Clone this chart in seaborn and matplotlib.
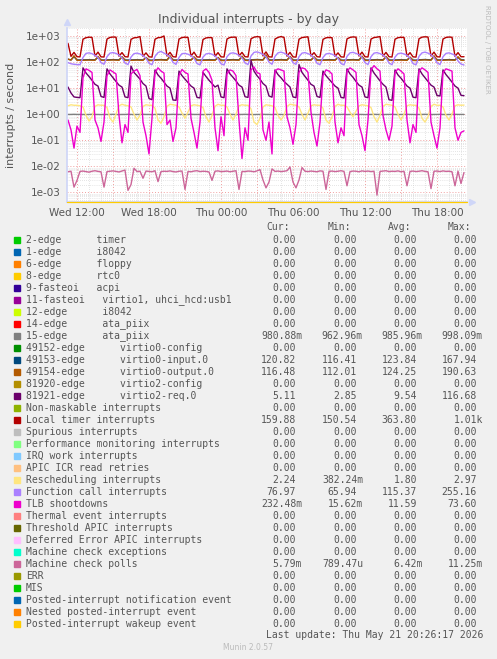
import pandas as pd
import seaborn as sns
import matplotlib.pyplot as plt
import matplotlib.dates as mdates
from matplotlib.patches import Rectangle
from matplotlib.ticker import LogLocator, FuncFormatter, NullFormatter

# ---- data, one point per 15 minutes (Wed 11:15 .. Thu 20:15)
ata_piix = [0.98, 0.98, 0.99, 0.98, 0.98,
            0.98, 0.97, 0.98, 0.99, 0.98, 0.98, 0.97, 0.98,
            0.98, 0.98, 0.99, 0.98, 0.97, 0.98, 0.98, 0.99,
            0.98, 0.97, 0.98, 0.98, 0.99, 0.98, 0.98, 0.97,
            0.98, 0.99, 0.98, 0.98, 0.97, 0.98, 0.99, 0.98,
            0.98, 0.98, 0.97, 0.98, 0.99, 0.98, 0.98, 0.98,
            0.97, 0.98, 0.98, 0.99, 0.98, 0.97, 0.98, 0.98,
            0.98, 0.99, 0.98, 0.97, 0.98, 0.98, 0.99, 0.98,
            0.98, 0.97, 0.98, 0.98, 0.99, 0.98, 0.98, 0.97,
            0.99, 0.98, 0.98, 0.97, 0.98, 0.99, 0.98, 0.98,
            0.98, 0.97, 0.98, 0.99, 0.98, 0.98, 0.97, 0.98,
            0.98, 0.98, 0.99, 0.98, 0.97, 0.98, 0.98, 0.99,
            0.97, 0.98, 0.98, 0.99, 0.98, 0.98, 0.97, 0.98,
            0.98, 0.99, 0.98, 0.98, 0.97, 0.98, 0.98, 0.99,
            0.98, 0.97, 0.98, 0.98, 0.99, 0.98, 0.98, 0.97,
            0.98, 0.98, 0.99, 0.98, 0.97, 0.98, 0.98, 0.99,
            0.98, 0.97, 0.98, 0.98, 0.99, 0.98, 0.98, 0.981]

virtio0_input = [128, 121, 160, 120, 120,
                 121, 122, 123, 122, 121, 150, 120, 119,
                 121, 122, 124, 122, 121, 155, 120, 119,
                 120, 121, 123, 121, 120, 148, 119, 118,
                 122, 123, 124, 123, 121, 158, 120, 119,
                 121, 122, 123, 122, 121, 150, 120, 119,
                 120, 121, 122, 121, 120, 145, 119, 118,
                 121, 122, 124, 122, 121, 160, 120, 119,
                 122, 123, 125, 123, 122, 168, 121, 120,
                 121, 122, 124, 122, 121, 155, 120, 119,
                 121, 123, 124, 122, 121, 152, 120, 119,
                 120, 121, 123, 121, 120, 148, 119, 118,
                 122, 123, 124, 122, 121, 158, 120, 119,
                 121, 122, 124, 122, 121, 155, 120, 119,
                 120, 121, 123, 121, 120, 150, 119, 118,
                 122, 123, 125, 123, 121, 160, 121, 120,
                 121, 122, 124, 122, 121, 150, 121, 120.8]

virtio0_output = [130, 118, 175, 117, 116,
                  117, 118, 119, 118, 117, 165, 117, 116,
                  117, 118, 120, 118, 117, 160, 116, 115,
                  116, 117, 119, 117, 116, 150, 115, 114,
                  118, 119, 121, 119, 117, 175, 117, 116,
                  117, 118, 119, 118, 117, 160, 116, 115,
                  116, 117, 118, 117, 116, 150, 115, 114,
                  117, 118, 120, 118, 117, 170, 116, 115,
                  118, 119, 121, 119, 118, 190, 117, 116,
                  117, 118, 120, 118, 117, 165, 116, 115,
                  117, 119, 120, 118, 117, 160, 116, 115,
                  116, 117, 119, 117, 116, 150, 115, 114,
                  118, 119, 120, 118, 117, 170, 116, 115,
                  117, 118, 120, 118, 117, 165, 116, 115,
                  116, 117, 119, 117, 116, 155, 115, 114,
                  118, 119, 121, 119, 117, 175, 117, 116,
                  117, 118, 120, 118, 117, 160, 117, 116.5]

virtio2_req = [11, 6.5, 4.6, 4.4, 4.3,
               60, 38, 28, 20, 14, 12, 4.8, 4.4,
               55, 35, 25, 18, 13, 11, 4.6, 4.3,
               70, 40, 30, 22, 15, 12, 4.0, 3.6,
               50, 32, 24, 17, 12, 10, 3.5, 3.4,
               45, 30, 22, 16, 12, 10, 4.4, 4.2,
               40, 28, 20, 15, 11, 13, 4.6, 4.3,
               55, 35, 26, 19, 13, 11, 4.7, 4.4,
               115, 45, 30, 22, 15, 12, 5.0, 4.5,
               50, 33, 25, 18, 14, 11, 4.6, 4.3,
               80, 40, 28, 20, 14, 12, 4.8, 4.4,
               45, 30, 22, 16, 12, 10, 4.4, 4.2,
               55, 35, 26, 18, 13, 11, 4.6, 4.3,
               60, 38, 27, 19, 14, 11, 3.6, 3.4,
               50, 32, 24, 17, 12, 10, 4.5, 4.3,
               55, 35, 25, 18, 13, 11, 5.2, 5.0,
               50, 33, 24, 17, 12, 10, 5.3, 5.11]

local_timer = [520, 165, 235, 160, 158,
               750, 860, 900, 880, 170, 240, 158, 156,
               760, 880, 910, 900, 168, 230, 160, 157,
               740, 850, 870, 950, 165, 225, 158, 155,
               750, 860, 880, 1000, 170, 235, 160, 156,
               760, 870, 900, 880, 168, 240, 157, 155,
               730, 840, 870, 860, 165, 230, 158, 156,
               760, 880, 900, 900, 170, 235, 160, 157,
               780, 900, 940, 920, 172, 245, 158, 156,
               760, 880, 950, 880, 168, 235, 157, 155,
               750, 870, 900, 930, 170, 230, 160, 156,
               740, 850, 880, 860, 165, 225, 158, 155,
               770, 880, 920, 900, 170, 240, 159, 157,
               760, 870, 900, 950, 168, 235, 160, 156,
               750, 860, 890, 880, 166, 230, 158, 155,
               780, 900, 930, 910, 170, 240, 159, 157,
               760, 880, 910, 890, 165, 230, 160, 159.9]

rescheduling = [2.1, 2.3, 2.2, 2.2, 2.1,
                1.9, 0.9, 0.55, 0.8, 2.0, 2.3, 2.2, 2.2,
                1.8, 0.7, 0.5, 1.0, 2.1, 2.4, 2.2, 2.1,
                1.9, 1.0, 0.6, 0.9, 2.0, 2.3, 2.2, 2.2,
                1.7, 0.6, 0.45, 0.8, 2.0, 2.4, 2.3, 2.2,
                1.9, 1.1, 0.7, 1.2, 2.1, 2.3, 2.2, 2.1,
                1.8, 0.8, 0.5, 0.9, 2.0, 2.4, 2.2, 2.2,
                1.9, 1.0, 0.6, 1.0, 2.1, 2.3, 2.2, 2.2,
                1.6, 0.5, 0.4, 0.7, 1.9, 2.3, 2.2, 2.1,
                1.8, 0.9, 0.6, 0.9, 2.0, 2.4, 2.3, 2.2,
                1.9, 1.0, 0.6, 1.1, 2.1, 2.3, 2.2, 2.2,
                1.7, 0.6, 0.45, 0.8, 2.0, 2.4, 2.2, 2.2,
                1.9, 1.2, 0.8, 1.3, 2.1, 2.3, 2.2, 2.1,
                1.8, 0.8, 0.5, 0.9, 2.0, 2.4, 2.3, 2.2,
                1.9, 1.0, 0.6, 1.0, 2.1, 2.3, 2.2, 2.2,
                1.7, 0.7, 0.5, 0.8, 2.0, 2.4, 2.2, 2.2,
                1.9, 0.9, 0.6, 1.0, 2.1, 2.3, 2.2, 2.24]

function_call = [95, 86, 82, 80, 79,
                 150, 215, 225, 210, 180, 150, 95, 82,
                 160, 220, 230, 215, 185, 145, 92, 80,
                 155, 210, 220, 205, 175, 140, 90, 79,
                 165, 230, 255, 220, 190, 155, 98, 81,
                 150, 210, 215, 200, 175, 140, 88, 78,
                 155, 205, 215, 200, 170, 135, 86, 77,
                 160, 215, 225, 210, 180, 145, 93, 80,
                 170, 235, 245, 225, 195, 160, 100, 82,
                 165, 225, 240, 220, 190, 150, 95, 81,
                 160, 220, 230, 210, 185, 145, 90, 79,
                 150, 205, 215, 200, 175, 140, 88, 78,
                 165, 225, 235, 215, 190, 150, 95, 80,
                 160, 220, 230, 210, 185, 145, 92, 79,
                 155, 210, 220, 205, 180, 140, 88, 78,
                 165, 225, 240, 220, 190, 150, 94, 80,
                 160, 215, 225, 205, 180, 110, 84, 77]

tlb_shootdowns = [0.6, 0.25, 0.05, 0.35, 0.2,
                  25, 55, 48, 40, 0.6, 0.3, 0.09, 0.5,
                  30, 50, 42, 35, 0.9, 0.08, 0.4, 0.2,
                  35, 45, 52, 30, 0.5, 0.15, 0.03, 0.7,
                  40, 60, 45, 38, 0.4, 0.6, 0.09, 0.3,
                  30, 52, 40, 35, 0.7, 0.2, 0.05, 0.5,
                  45, 55, 40, 20, 0.3, 0.04, 0.8, 0.15,
                  35, 50, 45, 30, 0.6, 0.02, 0.3, 0.1,
                  50, 65, 40, 35, 0.25, 0.1, 0.5, 0.03,
                  45, 55, 50, 45, 0.8, 0.3, 0.07, 0.4,
                  40, 60, 55, 40, 1.2, 0.2, 0.06, 0.5,
                  30, 50, 45, 35, 0.5, 0.08, 0.3, 0.15,
                  45, 60, 50, 40, 0.4, 0.15, 0.04, 0.6,
                  50, 73, 55, 45, 0.9, 0.25, 0.1, 0.35,
                  40, 55, 45, 35, 0.6, 0.08, 0.4, 0.2,
                  45, 60, 50, 40, 0.5, 0.15, 0.05, 0.3,
                  40, 55, 50, 45, 0.3, 0.1, 0.2, 0.23]

# machine check polls, in milli-interrupts per second
mc_polls_milli = [6.2, 6.5, 1.6, 2.9, 6.4,
                  6.6, 6.3, 6.0, 6.5, 6.8, 6.4, 6.2, 1.6,
                  6.3, 6.5, 6.7, 6.4, 6.1, 6.6, 7.2, 1.2,
                  2.0, 8.5, 6.3, 6.5, 3.5, 6.6, 6.4, 6.2,
                  6.8, 2.6, 6.3, 6.5, 6.4, 6.7, 6.3, 6.1,
                  6.5, 6.6, 1.3, 6.4, 6.2, 6.6, 6.8, 6.3,
                  6.5, 6.4, 6.1, 2.9, 6.5, 6.7, 6.3, 6.4,
                  6.6, 6.2, 6.5, 6.8, 1.3, 6.4, 6.3, 6.6,
                  6.5, 6.2, 6.7, 7.5, 3.0, 1.5, 2.5, 8.0,
                  6.4, 6.6, 6.3, 6.5, 6.8, 9.5, 2.5, 1.5,
                  3.0, 9.0, 6.5, 6.3, 6.6, 6.4, 6.2, 6.7,
                  6.5, 1.3, 6.4, 6.6, 6.3, 6.5, 6.8, 6.4,
                  1.8, 6.3, 6.6, 6.5, 6.2, 6.7, 6.4, 6.6,
                  6.3, 6.5, 0.79, 6.4, 6.6, 6.8, 6.3, 6.5,
                  6.4, 6.7, 6.2, 6.5, 1.8, 6.4, 6.6, 6.3,
                  6.5, 6.8, 6.4, 6.2, 1.4, 6.5, 6.6, 6.3,
                  6.7, 6.4, 6.5, 6.2, 1.8, 6.6, 2.2, 5.8]

# ---- legend table
legend_labels = ["2-edge      timer", "1-edge      i8042", "6-edge      floppy",
                 "8-edge      rtc0", "9-fasteoi   acpi",
                 "11-fasteoi   virtio1, uhci_hcd:usb1", "12-edge      i8042",
                 "14-edge      ata_piix", "15-edge      ata_piix",
                 "49152-edge      virtio0-config", "49153-edge      virtio0-input.0",
                 "49154-edge      virtio0-output.0", "81920-edge      virtio2-config",
                 "81921-edge      virtio2-req.0", "Non-maskable interrupts",
                 "Local timer interrupts", "Spurious interrupts",
                 "Performance monitoring interrupts", "IRQ work interrupts",
                 "APIC ICR read retries", "Rescheduling interrupts",
                 "Function call interrupts", "TLB shootdowns",
                 "Thermal event interrupts", "Threshold APIC interrupts",
                 "Deferred Error APIC interrupts", "Machine check exceptions",
                 "Machine check polls", "ERR", "MIS",
                 "Posted-interrupt notification event",
                 "Nested posted-interrupt event", "Posted-interrupt wakeup event"]
legend_colors = ["#00CC00", "#0066B3", "#FF8000", "#FFCC00", "#330099", "#990099",
                 "#CCFF00", "#FF0000", "#808080", "#008F00", "#00487D", "#B35A00",
                 "#B38F00", "#6B006B", "#8FB300", "#B30000", "#BEBEBE", "#80FF80",
                 "#80C9FF", "#FFC080", "#FFE680", "#AA80FF", "#EE00CC", "#FF8080",
                 "#666600", "#FFBFFF", "#00FFCC", "#CC6699", "#999900", "#00CC00",
                 "#0066B3", "#FF8000", "#FFCC00"]
z = "0.00"
cur_vals = [z] * 8 + ["980.88m", z, "120.82", "116.48", z, "5.11", z, "159.88",
                      z, z, z, z, "2.24", "76.97", "232.48m", z, z, z, z, "5.79m",
                      z, z, z, z, z]
min_vals = [z] * 8 + ["962.96m", z, "116.41", "112.01", z, "2.85", z, "150.54",
                      z, z, z, z, "382.24m", "65.94", "15.62m", z, z, z, z, "789.47u",
                      z, z, z, z, z]
avg_vals = [z] * 8 + ["985.96m", z, "123.84", "124.25", z, "9.54", z, "363.80",
                      z, z, z, z, "1.80", "115.37", "11.59", z, z, z, z, "6.42m",
                      z, z, z, z, z]
max_vals = [z] * 8 + ["998.09m", z, "167.94", "190.63", z, "116.68", z, "1.01k",
                      z, z, z, z, "2.97", "255.16", "73.60", z, z, z, z, "11.25m",
                      z, z, z, z, z]

# ---- long table for seaborn, drawn in munin order (later on top)
plotted = {
    "15-edge ata_piix": (ata_piix, "#808080"),
    "virtio0-input.0": (virtio0_input, "#00487D"),
    "virtio0-output.0": (virtio0_output, "#B35A00"),
    "virtio2-req.0": (virtio2_req, "#6B006B"),
    "Local timer": (local_timer, "#B30000"),
    "Rescheduling": (rescheduling, "#FFE680"),
    "Function call": (function_call, "#AA80FF"),
    "TLB shootdowns": (tlb_shootdowns, "#EE00CC"),
    "Machine check polls": ([v / 1000 for v in mc_polls_milli], "#CC6699"),
}
times = pd.date_range("2026-05-20 11:15", periods=len(local_timer), freq="15min")
df = pd.concat([pd.DataFrame({"time": times, "value": vals, "series": name})
                for name, (vals, _) in plotted.items()], ignore_index=True)

W, H = 497, 659
FONT = "#555555"

sns.set_theme(style="white")
plt.rcParams["font.family"] = ["DejaVu Sans"]

fig = plt.figure(figsize=(W / 100, H / 100), dpi=100, facecolor="#F0F0F0")


def fx(x):
    return x / W


def fy(y):
    return 1 - y / H


ax = fig.add_axes([fx(67), fy(202), fx(467) - fx(67), fy(28) - fy(202)])
ax.set_facecolor("white")
ax.set_yscale("log")

sns.lineplot(data=df, x="time", y="value", hue="series", hue_order=list(plotted),
             palette={k: c for k, (_, c) in plotted.items()}, linewidth=1.0,
             estimator=None, legend=False, ax=ax)

ybot, ytop = 4.3e-4, 2020
ax.set_ylim(ybot, ytop)
ax.set_xlim(pd.Timestamp("2026-05-20 11:10"), pd.Timestamp("2026-05-21 20:30"))
# zero-valued series end up on the bottom edge
ax.axhline(ybot * 1.02, color="#FFCC00", lw=0.9, clip_on=False, zorder=5)

ax.yaxis.set_major_locator(LogLocator(base=10, numticks=12))
ax.yaxis.set_minor_locator(LogLocator(base=10, subs=range(2, 10), numticks=40))
ax.yaxis.set_major_formatter(FuncFormatter(lambda v, p: f"{v:.0e}"))
ax.yaxis.set_minor_formatter(NullFormatter())

ax.xaxis.set_major_locator(mdates.HourLocator(byhour=range(0, 24, 3)))
ax.xaxis.set_minor_locator(mdates.HourLocator())
ax.xaxis.set_major_formatter(FuncFormatter(
    lambda v, p: mdates.num2date(v).strftime("%a %H:%M")
    if mdates.num2date(v).hour % 6 == 0 else ""))

ax.grid(which="major", color="#F0A0A0", ls=(0, (1, 2)), lw=0.7)
ax.grid(which="minor", color="#CCCCCC", ls=(0, (1, 2)), lw=0.5)
ax.set_axisbelow(True)
ax.tick_params(which="major", length=2.5, width=0.6, color="#E07070",
               labelsize=7.5, labelcolor=FONT, pad=2)
ax.tick_params(which="minor", length=0)
ax.set_xlabel("")
ax.set_ylabel("")
for s in ["top", "right"]:
    ax.spines[s].set_visible(False)
ax.spines["left"].set_color("#CFD6F8")
ax.spines["bottom"].set_color("#CFD6F8")
ax.plot([0], [1.035], marker="^", ms=4, color="#CFD6F8", transform=ax.transAxes, clip_on=False)
ax.plot([1.012], [0], marker=">", ms=4, color="#CFD6F8", transform=ax.transAxes, clip_on=False)

fig.text(fx(248), fy(19), "Individual interrupts - by day", ha="center", va="center",
         fontsize=9, color=FONT)
fig.text(fx(11), fy(115), "interrupts / second", rotation=90, ha="center", va="center",
         fontsize=8, color=FONT)
fig.text(fx(487), fy(5), "RRDTOOL / TOBI OETIKER", rotation=270, ha="center", va="top",
         fontsize=5, color="#BBBBBB")

# ---- legend table in monospace, each column placed on its own
mono = dict(family="DejaVu Sans Mono", fontsize=7.0, color=FONT, va="center")
col_ends = [302, 363, 423, 483]
for name, x_end in zip(["Cur:", "Min:", "Avg:", "Max:"], col_ends):
    fig.text(fx(x_end - 12), fy(227.5), name, ha="right", **mono)

for n, label in enumerate(legend_labels):
    y = 240 + 12 * n
    fig.patches.append(Rectangle((fx(14), fy(y + 3)), fx(6), 6 / H,
                                 transform=fig.transFigure, color=legend_colors[n]))
    fig.text(fx(26), fy(y), label, ha="left", **mono)
    for vals, x_end in zip([cur_vals, min_vals, avg_vals, max_vals], col_ends):
        v = vals[n]
        x = x_end if v[-1] in "mku" else x_end - 6
        fig.text(fx(x), fy(y), v, ha="right", **mono)

fig.text(fx(483), fy(635), "Last update: Thu May 21 20:26:17 2026", ha="right", **mono)
fig.text(fx(248), fy(648), "Munin 2.0.57", ha="center", va="center", fontsize=5.5,
         color="#BBBBBB")

fig.savefig("out.png", dpi=100, facecolor=fig.get_facecolor())
